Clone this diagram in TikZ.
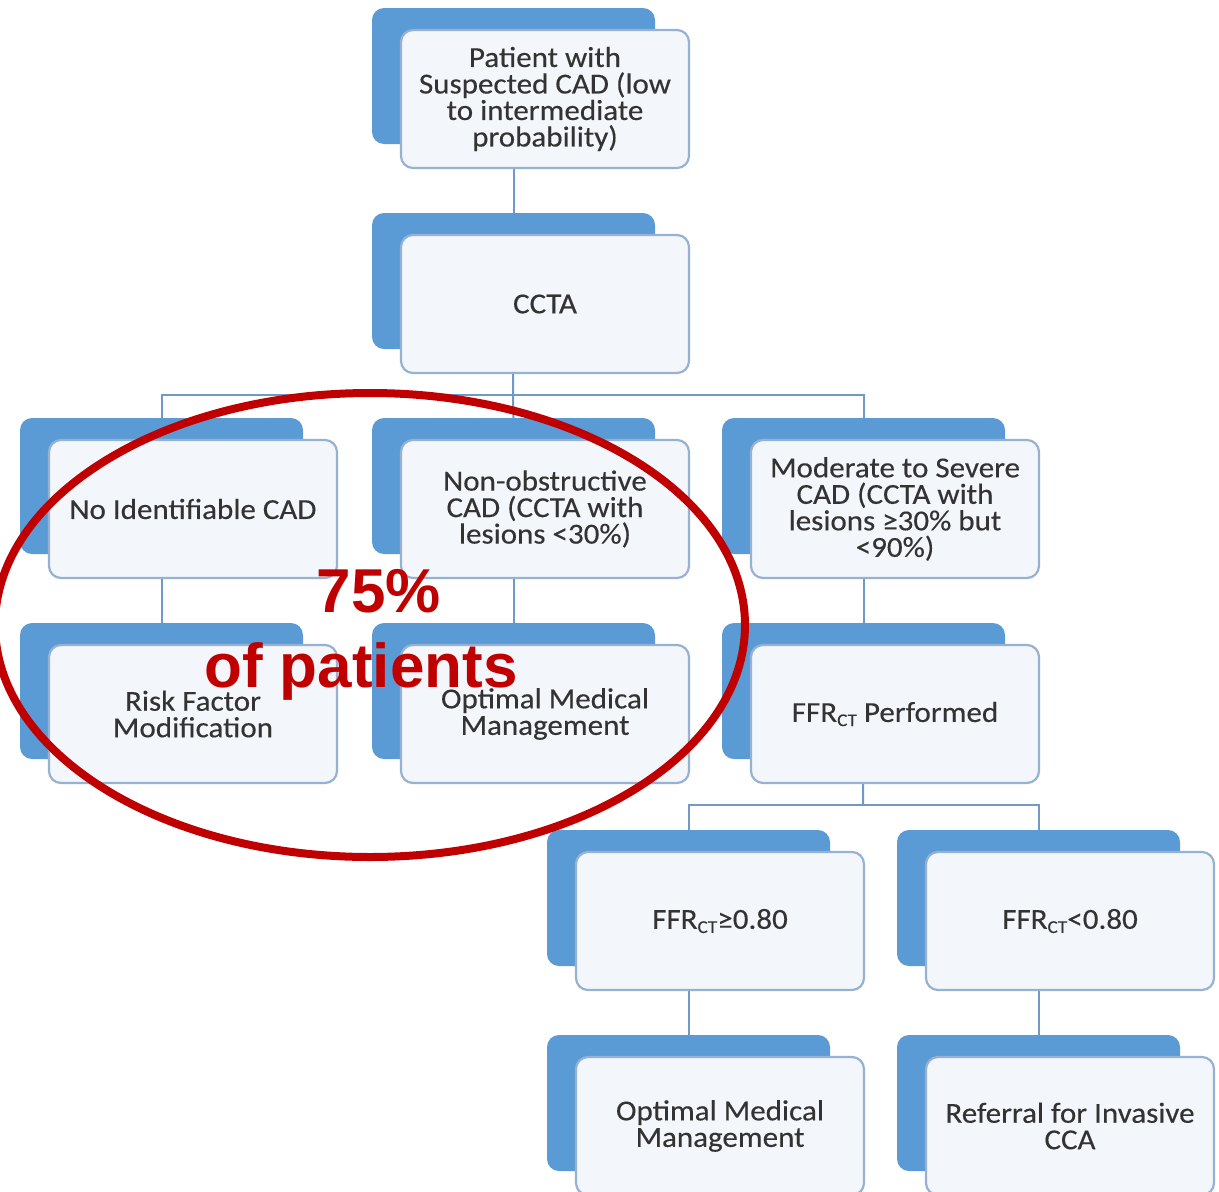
\documentclass[tikz,border=0pt]{standalone}
\usepackage{fontspec}
\setmainfont{Carlito}[FakeStretch=1.07,FakeBold=0.3]
\newfontfamily\hlfont{Liberation Sans}
\usetikzlibrary{shapes.geometric,backgrounds}
\definecolor{backblue}{HTML}{5B9BD5}
\definecolor{frontfill}{HTML}{F3F6FB}
\definecolor{frontline}{HTML}{97B1D2}
\definecolor{linkcol}{HTML}{7098C8}
\definecolor{txtcol}{HTML}{333333}
\definecolor{hlred}{HTML}{C00000}
\newcommand{\ffrsub}{FFR\raisebox{-0.3ex}{\fontsize{18}{18}\selectfont CT}}
\newcommand{\flowbox}[4]{%
  \node[backbox] (#1b) at ({#2+141.5},{#3+68}) {};
  \node[frontbox] (#1) at ({#2+29+144},{#3+22+69}) {#4};
}
\begin{document}
\begin{tikzpicture}[x=1pt,y=-1pt,
  backbox/.style={draw=none,fill=backblue,rounded corners=12pt,minimum width=283pt,minimum height=136pt,inner sep=0pt},
  frontbox/.style={draw=frontline,line width=2.2pt,fill=frontfill,rounded corners=12pt,minimum width=288pt,minimum height=138pt,inner sep=0pt,align=center,text=txtcol,font={\fontsize{29}{26.5}\selectfont\lineskiplimit=-100pt}},
  link/.style={draw=linkcol,line width=2pt},
  hltext/.style={text=hlred,font={\hlfont\bfseries\fontsize{62}{62}\selectfont},inner sep=0pt,anchor=base}]
\useasboundingbox (0,0) rectangle (1219,1192);
% column x of blue boxes: A 20, B 372, C 722, D 547, E 897
\flowbox{pat}{372}{8}{Patient with\\Suspected CAD (low\\to intermediate\\probability)}
\flowbox{ccta}{372}{213}{CCTA}
\flowbox{noid}{20}{418}{No Identifiable CAD}
\flowbox{nonob}{372}{418}{Non-obstructive\\CAD (CCTA with\\lesions <30\%)}
\flowbox{mod}{722}{418}{Moderate to Severe\\CAD (CCTA with\\lesions ≥30\% but\\<90\%)}
\flowbox{risk}{20}{623}{Risk Factor\\Modification}
\flowbox{omm}{372}{623}{Optimal Medical\\Management}
\flowbox{ffr}{722}{623}{\ffrsub{} Performed}
\flowbox{hi}{547}{830}{\ffrsub≥0.80}
\flowbox{lo}{897}{830}{\ffrsub<0.80}
\flowbox{omm2}{547}{1035}{Optimal Medical\\Management}
\flowbox{ref}{897}{1035}{Referral for Invasive\\CCA}
\coordinate (j1) at (513,395);
\coordinate (j2) at (863,805);
\begin{pgfonlayer}{background}
\fill[white] (0,0) rectangle (1219,1192);
\draw[link] (patb.south) -- (cctab.north);
\draw[link] (cctab.south) -- (j1);
\draw[link] (j1) -| (noidb.north);
\draw[link] (j1) -- (nonobb.north);
\draw[link] (j1) -| (modb.north);
\draw[link] (noidb.south) -- (riskb.north);
\draw[link] (nonobb.south) -- (ommb.north);
\draw[link] (modb.south) -- (ffrb.north);
\draw[link] (ffrb.south) -- (j2);
\draw[link] (j2) -| (hib.north);
\draw[link] (j2) -| (lob.north);
\draw[link] (hib.south) -- (omm2b.north);
\draw[link] (lob.south) -- (refb.north);
\end{pgfonlayer}
\node[draw=hlred,line width=8pt,ellipse,minimum width=750pt,minimum height=464pt,inner sep=0pt] (hl) at (370,625) {};
\node[hltext] (pct) at (379,612) {75\%};
\node[hltext] (pts) at (361,687) {of patients};
\end{tikzpicture}
\end{document}
